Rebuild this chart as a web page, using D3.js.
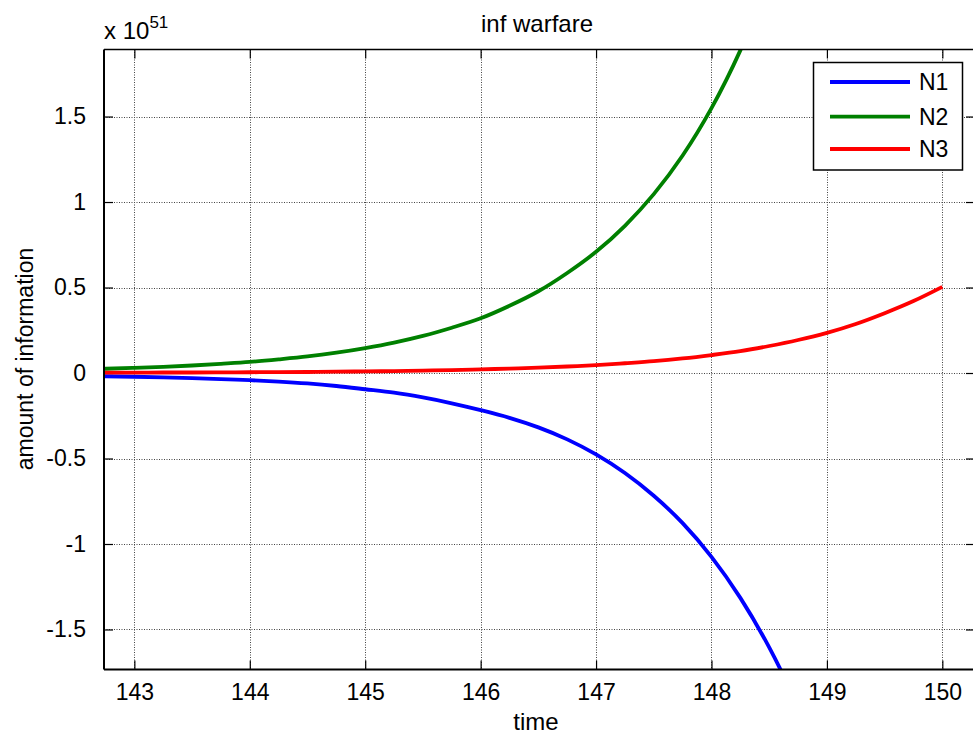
<!DOCTYPE html>
<html><head><meta charset="utf-8">
<script src="https://cdn.jsdelivr.net/npm/d3@7/dist/d3.min.js"></script>
<style>
html,body{margin:0;padding:0;background:#fff;}
text{font-family:"Liberation Sans",Arial,Helvetica,sans-serif;fill:#000;}
</style></head>
<body>
<svg id="chart" width="973" height="734"></svg>
<script>
// ---- data (values in units of 10^51) ----
const times = [142.5,142.75,143,143.25,143.5,143.75,144,144.25,144.5,144.75,145,145.25,145.5,145.75,146,146.25,146.5,146.75,147,147.25,147.5,147.75,148,148.25,148.5,148.75,149,149.25,149.5,149.75,150];
const N1 = [-0.016,-0.019,-0.022,-0.026,-0.030,-0.036,-0.042,-0.050,-0.061,-0.076,-0.095,-0.115,-0.143,-0.177,-0.217,-0.262,-0.318,-0.388,-0.476,-0.585,-0.718,-0.878,-1.075,-1.315,-1.605,-1.955,-2.380,-2.900,-3.530,-4.300,-5.230];
const N2 = [0.021,0.025,0.030,0.036,0.044,0.054,0.065,0.080,0.097,0.119,0.146,0.178,0.217,0.265,0.320,0.393,0.478,0.585,0.709,0.861,1.046,1.272,1.549,1.887,2.300,2.800,3.410,4.160,5.070,6.180,7.540];
const N3 = [0.0015,0.002,0.002,0.003,0.003,0.004,0.0045,0.005,0.006,0.008,0.0095,0.011,0.014,0.017,0.021,0.026,0.031,0.038,0.046,0.057,0.069,0.085,0.105,0.128,0.158,0.193,0.235,0.287,0.350,0.421,0.504];
const seriesNames = ["N1","N2","N3"];
const seriesColors = ["#0000ff","#008000","#ff0000"];
const xTicks = [143,144,145,146,147,148,149,150];
const yTicks = [-1.5,-1,-0.5,0,0.5,1,1.5];
const yTickLabels = ["-1.5","-1","-0.5","0","0.5","1","1.5"];
const titleText = "inf warfare";
const xLabelText = "time";
const yLabelText = "amount of information";

// ---- layout ----
const L = 104, R = 975, T = 49.5, B = 669.5;
const svg = d3.select("#chart");
const x = d3.scaleLinear().domain([142.737, 150.283]).range([L, R]);
const y = d3.scaleLinear().domain([-1.734, 1.892]).range([B, T]);

svg.append("rect").attr("x",0).attr("y",0).attr("width",973).attr("height",734).attr("fill","#fff");

// grid
const grid = svg.append("g");
grid.selectAll("line.gx").data(xTicks).join("line")
  .attr("x1",d=>Math.round(x(d))+0.5).attr("x2",d=>Math.round(x(d))+0.5)
  .attr("y1",T).attr("y2",B)
  .attr("stroke","#444").attr("stroke-width",1).attr("stroke-dasharray","1,1.5");
grid.selectAll("line.gy").data(yTicks).join("line")
  .attr("y1",d=>Math.round(y(d))+0.5).attr("y2",d=>Math.round(y(d))+0.5)
  .attr("x1",L).attr("x2",R)
  .attr("stroke","#444").attr("stroke-width",1).attr("stroke-dasharray","1,1.5");

// axes via d3 axis (ticks inward)
const fs = 23;
const xAxis = svg.append("g").attr("transform",`translate(0,${B})`)
  .call(d3.axisBottom(x).tickValues(xTicks).tickSize(-9).tickPadding(14).tickFormat(d3.format("d")));
const xAxisTop = svg.append("g").attr("transform",`translate(0,${T})`)
  .call(d3.axisTop(x).tickValues(xTicks).tickSize(-9).tickFormat(""));
const yAxis = svg.append("g").attr("transform",`translate(${L},0)`)
  .call(d3.axisLeft(y).tickValues(yTicks).tickSize(-9).tickPadding(18).tickFormat((d,i)=>yTickLabels[i]));
const yAxisR = svg.append("g").attr("transform",`translate(${R},0)`)
  .call(d3.axisRight(y).tickValues(yTicks).tickSize(-9).tickFormat(""));
[xAxis,xAxisTop,yAxis,yAxisR].forEach(g=>{
  g.select(".domain").remove();
  g.selectAll(".tick line").attr("stroke","#000").attr("stroke-width",1.2);
  g.selectAll(".tick text").attr("font-size",fs).attr("font-family","Liberation Sans, Arial, sans-serif").attr("fill","#000");
});

// clip + lines
svg.append("clipPath").attr("id","clip").append("rect")
  .attr("x",L).attr("y",T).attr("width",R-L).attr("height",B-T);
const data = [N1,N2,N3];
const line = d3.line().x((d,i)=>x(times[i])).y(d=>y(d)).curve(d3.curveCatmullRom.alpha(0.5));
const plot = svg.append("g").attr("clip-path","url(#clip)");
data.forEach((s,k)=>{
  plot.append("path").datum(s).attr("d",line)
    .attr("fill","none").attr("stroke",seriesColors[k]).attr("stroke-width",3.8)
    .attr("stroke-linejoin","round");
});

// box
svg.append("line").attr("x1",L).attr("x2",R).attr("y1",T).attr("y2",T).attr("stroke","#000").attr("stroke-width",1.5);
svg.append("line").attr("x1",L).attr("x2",R).attr("y1",B).attr("y2",B).attr("stroke","#000").attr("stroke-width",2);
svg.append("line").attr("x1",L).attr("x2",L).attr("y1",T).attr("y2",B).attr("stroke","#000").attr("stroke-width",2);
svg.append("line").attr("x1",R).attr("x2",R).attr("y1",T).attr("y2",B).attr("stroke","#000").attr("stroke-width",1.5);

// exponent label
const ex = svg.append("text").attr("x",104).attr("y",39).attr("font-size",24);
ex.append("tspan").text("x 10");
ex.append("tspan").attr("dy",-11).attr("font-size",17).text("51");

// title / labels
svg.append("text").attr("x",537).attr("y",32).attr("text-anchor","middle").attr("font-size",fs+1).text(titleText);
svg.append("text").attr("x",536).attr("y",730).attr("text-anchor","middle").attr("font-size",fs+1).text(xLabelText);
svg.append("text").attr("transform","translate(33,359) rotate(-90)").attr("text-anchor","middle").attr("font-size",fs).text(yLabelText);

// legend
const lg = svg.append("g");
lg.append("rect").attr("x",813.5).attr("y",62.5).attr("width",149).attr("height",107.5)
  .attr("fill","#fff").attr("stroke","#000").attr("stroke-width",1.5);
const ly = [82,116.7,149];
seriesNames.forEach((n,k)=>{
  lg.append("line").attr("x1",830).attr("x2",910).attr("y1",ly[k]).attr("y2",ly[k])
    .attr("stroke",seriesColors[k]).attr("stroke-width",3.8);
  lg.append("text").attr("x",919).attr("y",ly[k]+8).attr("font-size",fs).text(n);
});
</script>
</body></html>
